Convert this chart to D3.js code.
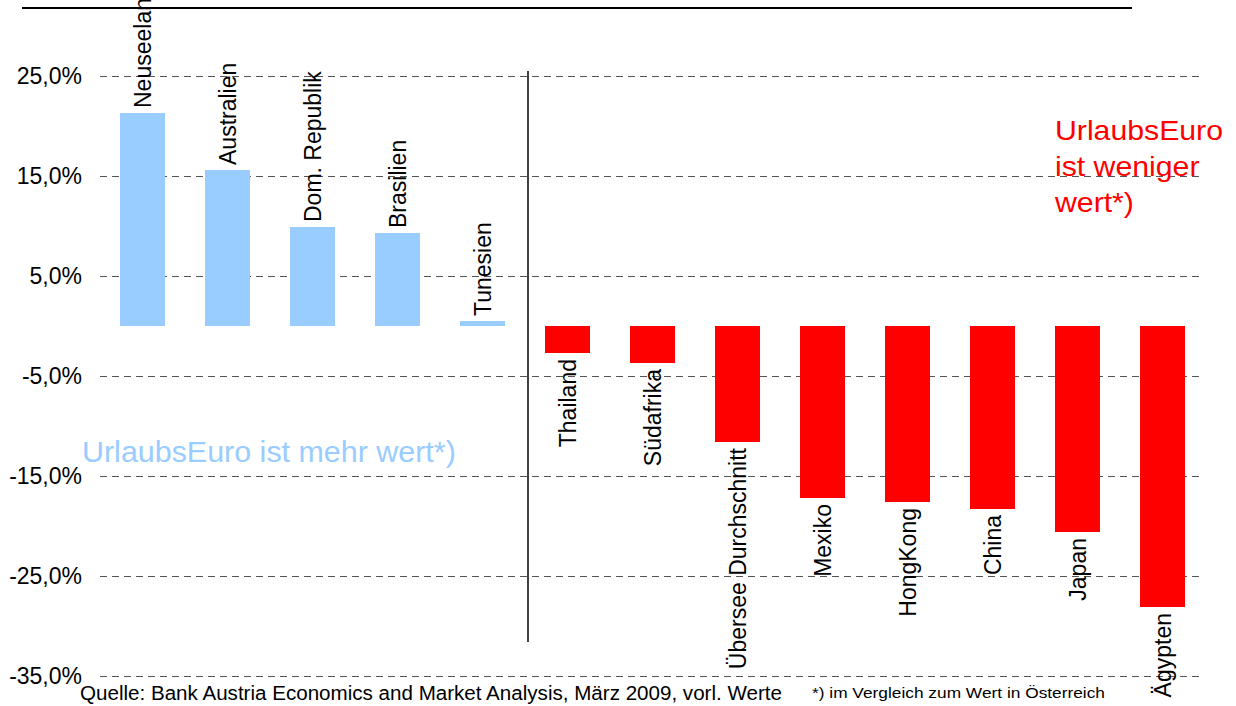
<!DOCTYPE html>
<html>
<head>
<meta charset="utf-8">
<script src="https://cdn.jsdelivr.net/npm/d3@7"></script>
<style>
  body { margin: 0; background: #fff; }
  svg { display: block; font-family: "Liberation Sans", Arial, sans-serif; }
</style>
</head>
<body>
<script>
const categories = ["Neuseeland", "Australien", "Dom. Republik", "Brasilien", "Tunesien",
    "Thailand", "Südafrika", "Übersee Durchschnitt", "Mexiko", "HongKong", "China", "Japan", "Ägypten"];
const values = [21.3, 15.6, 9.9, 9.3, 0.5, -2.7, -3.7, -11.6, -17.2, -17.6, -18.3, -20.6, -28.1];
const yTicks = [25, 15, 5, -5, -15, -25, -35];
const moreText = ["UrlaubsEuro ist mehr wert*)"];
const lessText = ["UrlaubsEuro", "ist weniger", "wert*)"];
const sourceText = "Quelle: Bank Austria Economics and Market Analysis, März 2009, vorl. Werte";
const noteText = "*) im Vergleich zum Wert in Österreich";

const width = 1236, height = 706;
const plot = { left: 100, right: 1205, top: 76, bottom: 676 };

const svg = d3.select("body").append("svg")
    .attr("width", width)
    .attr("height", height);

const x = d3.scaleBand()
    .domain(categories)
    .range([plot.left, plot.right])
    .paddingInner(40 / 85)
    .paddingOuter(20 / 85);

const y = d3.scaleLinear()
    .domain([-35, 25])
    .range([plot.bottom, plot.top]);

const fmt = v => v.toFixed(1).replace(".", ",") + "%";

// top rule
svg.append("line")
    .attr("x1", 22).attr("x2", 1132)
    .attr("y1", 8).attr("y2", 8)
    .attr("stroke", "#000").attr("stroke-width", 2);

// grid + y labels
const yAxis = d3.axisLeft(y)
    .tickValues(yTicks)
    .tickSize(-(1200 - plot.left))
    .tickPadding(18)
    .tickFormat(fmt);

const gy = svg.append("g")
    .attr("transform", `translate(${plot.left},0)`)
    .call(yAxis);
gy.select(".domain").remove();
gy.selectAll(".tick line")
    .attr("stroke", "#555")
    .attr("stroke-dasharray", "7,5");
gy.selectAll(".tick text")
    .attr("font-size", 23)
    .attr("fill", "#000")
    .style("font-family", "'Liberation Sans', Arial, sans-serif");

// separator line
const sepX = (x("Tunesien") + x.bandwidth() + x("Thailand")) / 2 + 3;
svg.append("line")
    .attr("x1", sepX).attr("x2", sepX)
    .attr("y1", 71).attr("y2", 642)
    .attr("stroke", "#000").attr("stroke-width", 1.5);

// bars
svg.selectAll("rect.bar")
    .data(values)
    .enter()
    .append("rect")
      .attr("class", "bar")
      .attr("x", (d, i) => x(categories[i]))
      .attr("width", x.bandwidth())
      .attr("y", d => y(Math.max(0, d)))
      .attr("height", d => Math.abs(y(d) - y(0)))
      .attr("fill", d => d >= 0 ? "#99CCFF" : "#FF0000");

// bar labels
svg.selectAll("text.lbl")
    .data(values)
    .enter()
    .append("text")
      .attr("class", "lbl")
      .attr("font-size", 23)
      .attr("dominant-baseline", "central")
      .attr("text-anchor", d => d >= 0 ? "start" : "end")
      .attr("transform", (d, i) => {
          const cx = x(categories[i]) + x.bandwidth() / 2;
          const cy = d >= 0 ? y(d) - 5 : y(d) + 6;
          return `translate(${cx},${cy}) rotate(-90)`;
      })
      .text((d, i) => categories[i]);

// annotations
svg.append("g")
    .attr("transform", "translate(82,462) scale(1.05,1)")
  .append("text")
    .attr("font-size", 29)
    .attr("fill", "#99CCFF")
    .text(moreText[0]);

svg.append("g")
    .attr("transform", "translate(1055,0) scale(1.08,1)")
    .selectAll("text")
    .data(lessText)
    .enter()
    .append("text")
      .attr("x", 0)
      .attr("y", (d, i) => 140 + i * 36)
      .attr("font-size", 28)
      .attr("fill", "#FF0000")
      .text(d => d);

// footer
svg.append("text")
    .attr("x", 80).attr("y", 700)
    .attr("font-size", 20)
    .attr("textLength", 702)
    .attr("lengthAdjust", "spacingAndGlyphs")
    .text(sourceText);

svg.append("text")
    .attr("x", 812).attr("y", 698)
    .attr("font-size", 15)
    .attr("textLength", 293)
    .attr("lengthAdjust", "spacingAndGlyphs")
    .text(noteText);
</script>
</body>
</html>
